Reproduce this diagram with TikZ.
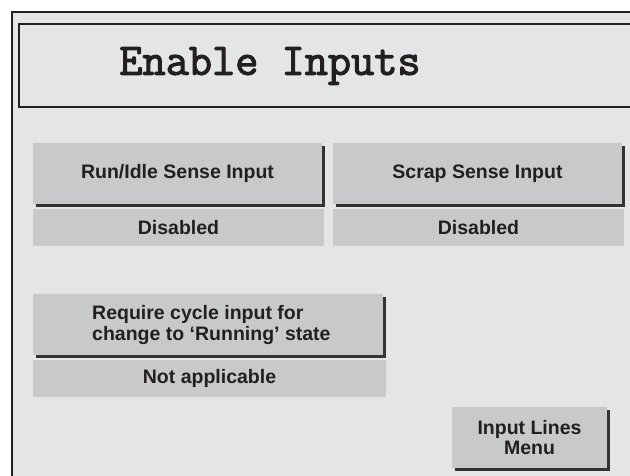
\documentclass[tikz,border=0pt]{standalone}
\usepackage{fontspec}
\setmainfont{Liberation Sans}
\newfontfamily\titlefont{Latin Modern Mono}[FakeBold=2.5]
\usetikzlibrary{shadows}
\definecolor{panelbg}{HTML}{E4E5E7}
\definecolor{btnfill}{HTML}{C8C9CB}
\definecolor{inkdark}{HTML}{231F20}
\definecolor{shadowc}{HTML}{333333}
\tikzset{
  btn/.style={draw=none, fill=btnfill, inner sep=0pt, minimum height=61pt,
    text=inkdark, font=\fontsize{19.5}{21}\selectfont\bfseries, align=center,
    drop shadow={shadow xshift=3pt, shadow yshift=-3pt, fill=shadowc, opacity=1}},
  valbox/.style={draw=none, fill=btnfill, inner sep=0pt, minimum height=37pt,
    text=inkdark, font=\fontsize{19.5}{21}\selectfont\bfseries},
}
\begin{document}
\begin{tikzpicture}[x=1pt,y=-1pt]
\useasboundingbox (0,0) rectangle (630,475);
% outer frame
\draw[inkdark, line width=2pt, fill=panelbg] (12,12) rectangle (645,490);
% title box
\draw[inkdark, line width=1.5pt] (19,24) rectangle (645,107);
\node[text=inkdark, font=\titlefont\fontsize{45}{47}\selectfont] (title) at (270,66) {Enable Inputs};
% run/idle
\node[btn, minimum width=289pt] (run) at (177.5,173.5) {Run/Idle Sense Input};
\node[valbox, minimum width=291pt] (runval) at (178.5,227.5) {Disabled};
% scrap
\node[btn, minimum width=289pt] (scrap) at (477.5,173.5) {Scrap Sense Input};
\node[valbox, minimum width=291pt] (scrapval) at (478.5,227.5) {Disabled};
% cycle
\node[btn, minimum width=350pt] (cycle) at (208,324.5) {};
\node[anchor=west, inner sep=0pt, text=inkdark, align=left, font=\fontsize{19.5}{21}\selectfont\bfseries] (cycletext) at (92,325) {Require cycle input for\\change to ‘Running’ state};
\node[valbox, minimum width=353pt] (cycleval) at (209.5,378.5) {Not applicable};
% menu
\node[btn, minimum width=155pt, font=\fontsize{19.5}{20}\selectfont\bfseries] (menu) at (529.5,437.5) {Input Lines\\Menu};
\end{tikzpicture}
\end{document}
